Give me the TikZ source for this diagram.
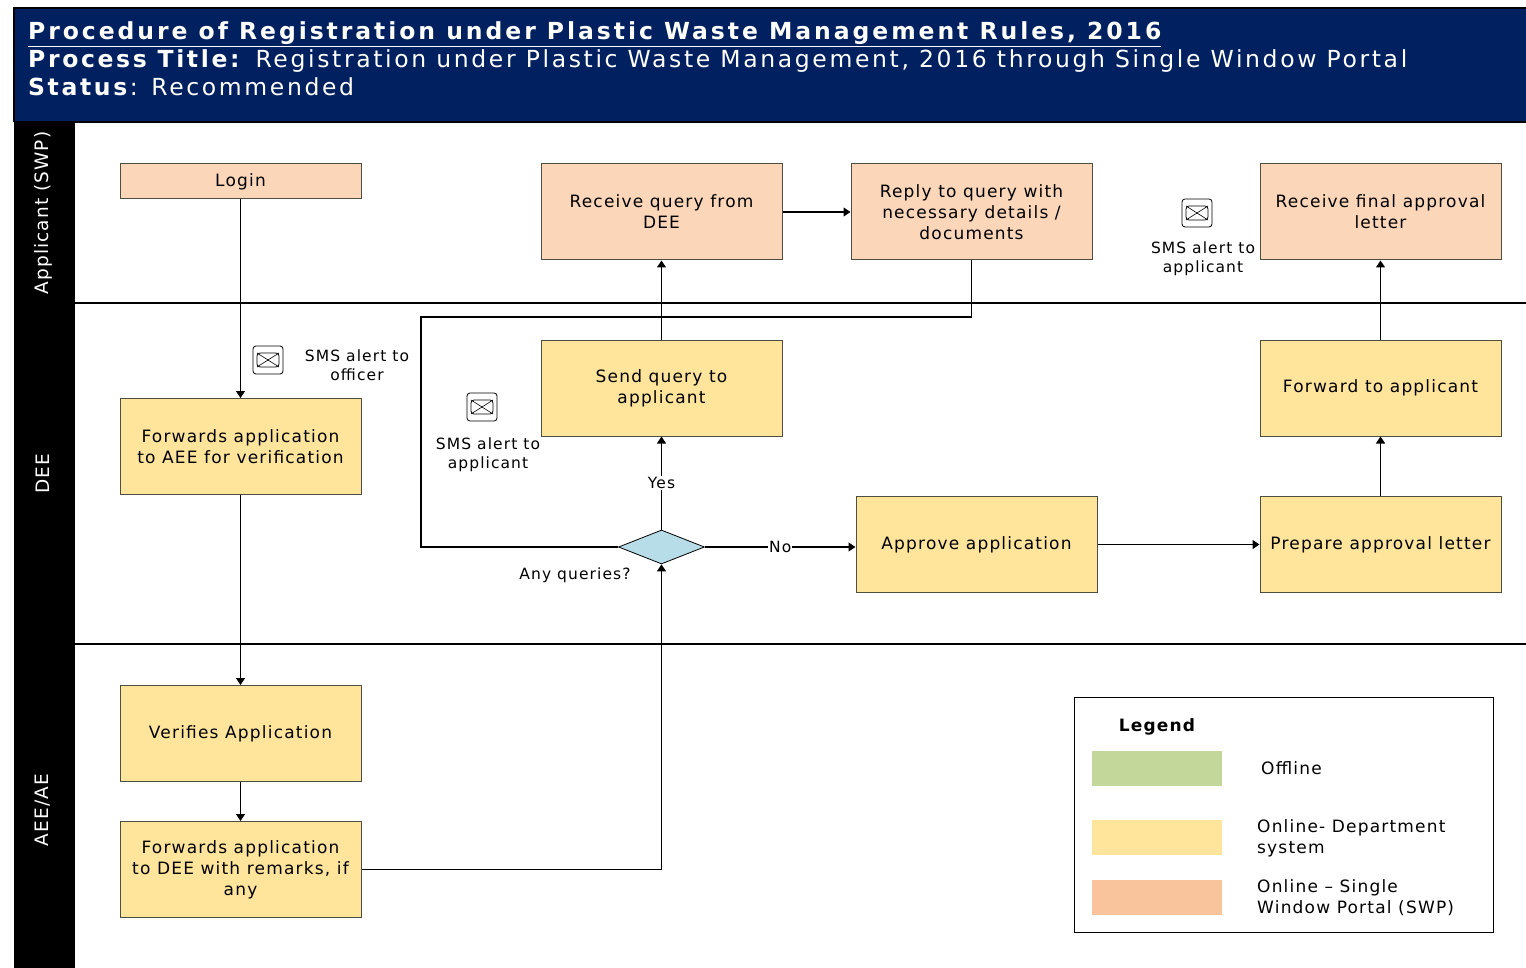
\documentclass[tikz,border=0pt]{standalone}
\usepackage{fontspec}
\setmainfont{DejaVu Sans}[LetterSpace=7]
\usetikzlibrary{arrows.meta,shapes.geometric,calc}
\definecolor{navy}{HTML}{002060}
\definecolor{peach}{HTML}{FBD6B9}
\definecolor{lemon}{HTML}{FFE59B}
\definecolor{dblue}{HTML}{B7DDE8}
\definecolor{lgreen}{HTML}{C4D79B}
\definecolor{lpeach}{HTML}{F9C49B}
\definecolor{edgec}{HTML}{4D4D40}
\begin{document}
\begin{tikzpicture}[x=1pt,y=-1pt,
 box/.style={draw=edgec,line width=1pt,minimum width=241pt,minimum height=96pt,inner sep=2pt,align=center,font=\fontsize{17}{21}\selectfont},
 swp/.style={box,fill=peach},
 dept/.style={box,fill=lemon},
 conn/.style={line width=1.2pt},
 arr/.style={conn,-{Triangle[length=7pt,width=9pt]}},
 small/.style={font=\fontsize{15.5}{19}\selectfont,align=center},
 lane/.style={text=white,rotate=90,font=\fontsize{18.5}{22}\selectfont\addfontfeature{LetterSpace=6}},
 hdr/.style={text=white,anchor=base west,inner sep=0pt,font=\fontsize{23.5}{28}\selectfont\addfontfeature{LetterSpace=11.2}},
 envicon/.style={draw,rounded corners=3pt,minimum width=30pt,minimum height=28pt,line width=0.8pt,inner sep=0pt,
   path picture={
     \draw[line width=0.8pt] ($(path picture bounding box.center)+(-11,-7)$) rectangle ($(path picture bounding box.center)+(11,7)$);
     \draw[line width=0.6pt] ($(path picture bounding box.center)+(-11,-7)$) -- ($(path picture bounding box.center)+(11,7)$);
     \draw[line width=0.6pt] ($(path picture bounding box.center)+(11,-7)$) -- ($(path picture bounding box.center)+(-11,7)$);
   }},
 swatch/.style={minimum width=130pt,minimum height=35pt,inner sep=0pt},
 legtext/.style={anchor=west,align=left,inner sep=0pt,font=\fontsize{17}{21}\selectfont}
]
\useasboundingbox (0,0) rectangle (1526,968);
\fill[white] (0,0) rectangle (1526,968);
% header
\fill[navy] (14,8) rectangle (1526,122);
\draw[line width=2pt] (1526,8) -- (14,8) -- (14,122);
\node[hdr] (title) at (28,40) {\addfontfeature{LetterSpace=12.5}\textbf{\underline{Procedure of Registration under Plastic Waste Management Rules, 2016}}};
\node[hdr] (ptitle) at (28,68) {\textbf{Process Title:} Registration under Plastic Waste Management, 2016 through Single Window Portal};
\node[hdr] (status) at (28,96) {\textbf{Status}: Recommended};
% lanes
\fill[black] (14,122) rectangle (75,968);
\draw[line width=2pt] (14,122) -- (1526,122);
\draw[line width=1.6pt] (75,303) -- (1526,303);
\draw[line width=1.6pt] (75,644) -- (1526,644);
\node[lane] (l1) at (43,213) {Applicant (SWP)};
\node[lane] (l2) at (43,474) {DEE};
\node[lane] (l3) at (43,810) {AEE/AE};
% nodes
\node[swp,minimum height=35pt] (login) at (240.5,181.5) {Login};
\node[swp] (rq) at (661.5,212) {Receive query from\\DEE};
\node[swp] (reply) at (971.5,212) {Reply to query with\\necessary details /\\documents};
\node[swp] (final) at (1380.5,212) {Receive final approval\\letter};
\node[dept] (fwdaee) at (240.5,446.5) {Forwards application\\to AEE for verification};
\node[dept] (sendq) at (661.5,388) {Send query to\\applicant};
\node[dept] (fwdapp) at (1380.5,388) {Forward to applicant};
\node[diamond,draw,fill=dblue,line width=0.8pt,minimum width=86pt,minimum height=34pt,inner sep=0pt] (dec) at (661.5,547) {};
\node[dept] (approve) at (976.5,544.5) {Approve application};
\node[dept] (prep) at (1380.5,544.5) {Prepare approval letter};
\node[dept] (verify) at (240.5,733.5) {Verifies Application};
\node[dept] (fwddee) at (240.5,869.5) {Forwards application\\to DEE with remarks, if\\any};
% icons and notes
\node[envicon] (env1) at (268,360) {};
\node[small] (sms1) at (357,365) {SMS alert to\\officer};
\node[envicon] (env2) at (482,407) {};
\node[small] (sms2) at (488,455) {SMS alert to\\applicant};
\node[envicon] (env3) at (1197,213) {};
\node[small] (sms3) at (1203,259) {SMS alert to\\applicant};
\node[small] (anyq) at (575,575) {Any queries?};
% connectors
\coordinate (loopc) at (421,317);
\draw[arr] (login) -- (fwdaee);
\draw[arr] (fwdaee) -- (verify);
\draw[arr] (verify) -- (fwddee);
\draw[arr] (fwddee.east) -| (dec.south);
\draw[arr] (dec.north) -- node[fill=white,small,inner sep=1pt]{Yes} (sendq.south);
\draw[arr] (sendq) -- (rq);
\draw[arr] (rq) -- (reply);
\draw[conn] (reply.south) |- (loopc) |- (dec.west);
\draw[arr] (dec.east) -- node[fill=white,small,inner sep=1pt]{No} (dec.east -| approve.west);
\draw[arr] (approve) -- (prep);
\draw[arr] (prep) -- (fwdapp);
\draw[arr] (fwdapp) -- (final);
% legend
\node[draw,line width=1pt,minimum width=419pt,minimum height=235pt,inner sep=0pt] (legend) at (1283.5,814.5) {};
\node[font=\fontsize{17}{21}\selectfont\bfseries] (legt) at (1157,727) {Legend};
\node[swatch,fill=lgreen] (sw1) at (1157,768.5) {};
\node[swatch,fill=lemon] (sw2) at (1157,837.5) {};
\node[swatch,fill=lpeach] (sw3) at (1157,897.5) {};
\node[legtext] (lt1) at (1261,768) {Offline};
\node[legtext] (lt2) at (1257,838) {Online- Department\\system};
\node[legtext] (lt3) at (1257,898) {Online -- Single\\Window Portal (SWP)};
\end{tikzpicture}
\end{document}
